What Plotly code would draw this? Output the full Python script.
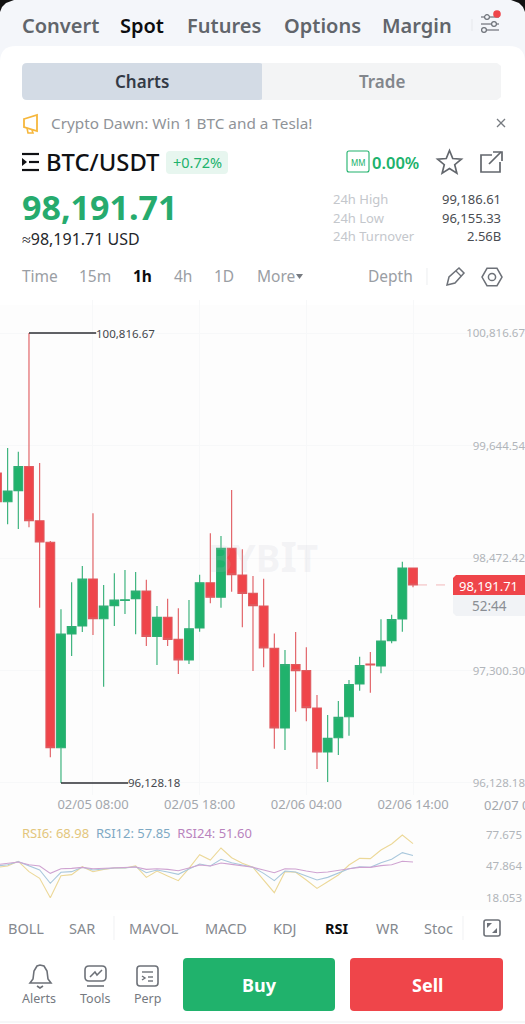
import math

import pandas as pd
import plotly.graph_objects as go

W = 525
H = 1024
FONT = "Noto Sans"

GREEN = "#20b26c"
RED = "#ef454a"
GREY = "#9a9ea4"

# Hourly candles, 02/04 23:00 to 02/06 14:00
times = pd.date_range("2025-02-04 23:00", periods=40, freq="h")

opens = [99358, 99059, 99174, 99424, 98861, 98636, 96496, 97681, 97764, 98254,
         97840, 97976, 98031, 98049, 98129, 97656, 97854, 97625, 97410, 97743,
         98215, 98063, 98573, 98295, 98104, 97972, 97531, 96701, 97361, 97299,
         96910, 96451, 96600, 96819, 97160, 97368, 97347, 97611, 97837, 98368]
highs = [99358, 99619, 99580, 100816.67, 99462, 98650, 97938, 98219, 98389, 98938,
         98191, 98313, 98347, 98327, 98247, 97972, 98049, 97948, 98035, 98299,
         98729, 98702, 99181, 98563, 98285, 98257, 97687, 97514, 97701, 97542,
         97045, 96837, 96982, 97201, 97444, 97493, 97833, 97882, 98434, 98368]
lows = [99059, 98823, 98775, 98792, 97955, 96396, 96128.18, 97451, 97701, 97670,
        97132, 97764, 97889, 97677, 97555, 97358, 97555, 97264, 97368, 97705,
        98000, 97955, 98122, 97750, 97295, 97333, 96486, 96472, 96871, 96771,
        96274, 96139, 96420, 96621, 97090, 97069, 97271, 97583, 97705, 98167]
closes = [99059, 99170, 99424, 98861, 98639, 96496, 97681, 97757, 98254, 97840,
          97972, 98035, 98038, 98129, 97656, 97854, 97625, 97410, 97736, 98215,
          98063, 98573, 98299, 98104, 97976, 97535, 96701, 97361, 97299, 96913,
          96451, 96593, 96812, 97153, 97351, 97358, 97608, 97830, 98368, 98191.71]

rsi6 = [46.6, 47.9, 52.3, 42.5, 36.2, 17.9, 38.7, 39.7, 47.2, 42.5,
        44.7, 46.0, 46.0, 47.9, 37.1, 43.1, 38.4, 34.0, 45.6, 58.6,
        53.5, 64.9, 55.7, 50.4, 46.6, 34.6, 22.6, 42.5, 41.9, 34.6,
        26.7, 33.0, 39.3, 48.8, 55.1, 54.8, 63.0, 68.7, 77.2, 68.98]
rsi12 = [47.9, 49.1, 52.0, 47.9, 44.1, 31.5, 41.9, 42.5, 46.6, 44.1,
         45.0, 46.0, 46.0, 47.2, 41.5, 44.1, 42.2, 40.0, 45.0, 49.7,
         47.9, 54.2, 51.0, 48.8, 46.6, 40.9, 34.0, 43.1, 42.2, 38.4,
         34.6, 37.1, 40.9, 45.3, 47.2, 46.6, 51.0, 54.2, 60.5, 57.85]
rsi24 = [49.1, 50.4, 51.6, 49.1, 47.9, 40.9, 45.3, 45.6, 46.6, 45.3,
         45.6, 46.6, 46.6, 46.9, 44.7, 45.3, 44.7, 43.4, 46.0, 48.8,
         47.9, 50.7, 49.4, 48.2, 46.6, 44.1, 41.5, 45.3, 45.0, 43.1,
         41.5, 42.2, 43.4, 45.3, 46.6, 46.6, 48.2, 49.1, 52.3, 51.60]

price_ticks = [100816.67, 99644.54, 98472.42, 97300.30, 96128.18]
rsi_ticks = [77.675, 47.864, 18.053]

top_tabs = ["Convert", "Futures", "Options", "Margin"]
periods = ["Time", "15m", "4h", "1D", "More"]
indicators = ["BOLL", "SAR", "MAVOL", "MACD", "KDJ", "WR", "Stoc"]


# Everything around the chart is placed in screen pixels
def fx(x):
    return x / W


def fy(y):
    return 1 - y / H


def path(points, close=False):
    d = "M" + " L".join(f"{fx(x):.5f},{fy(y):.5f}" for x, y in points)
    return d + (" Z" if close else "")


def rrect_path(x0, y0, x1, y1, r):
    pts = [(x0 + r, y0), (x1 - r, y0), (x1, y0 + r), (x1, y1 - r),
           (x1 - r, y1), (x0 + r, y1), (x0, y1 - r), (x0, y0 + r)]
    p = [f"{fx(x):.5f},{fy(y):.5f}" for x, y in pts]
    return (f"M{p[0]} L{p[1]} Q{fx(x1):.5f},{fy(y0):.5f} {p[2]} L{p[3]} "
            f"Q{fx(x1):.5f},{fy(y1):.5f} {p[4]} L{p[5]} "
            f"Q{fx(x0):.5f},{fy(y1):.5f} {p[6]} L{p[7]} "
            f"Q{fx(x0):.5f},{fy(y0):.5f} {p[0]} Z")


shapes = []
annotations = []


def fill(d, color, layer="above"):
    shapes.append(dict(type="path", path=d, xref="paper", yref="paper",
                       fillcolor=color, line=dict(width=0), layer=layer))


def stroke(points, color, width=1.5, close=False):
    shapes.append(dict(type="path", path=path(points, close), xref="paper", yref="paper",
                       line=dict(color=color, width=width)))


def rect_line(x0, y0, x1, y1, r, color, width=1.5):
    shapes.append(dict(type="path", path=rrect_path(x0, y0, x1, y1, r), xref="paper",
                       yref="paper", line=dict(color=color, width=width)))


def circle(cx, cy, r, line=None, color=None, width=1.5):
    shapes.append(dict(type="circle", xref="paper", yref="paper",
                       x0=fx(cx - r), x1=fx(cx + r), y0=fy(cy + r), y1=fy(cy - r),
                       fillcolor=color, line=dict(color=line, width=width if line else 0)))


def label(x, y, text, size, color, anchor="left", weight=400, family=FONT):
    annotations.append(dict(x=fx(x), y=fy(y), xref="paper", yref="paper", text=text,
                            showarrow=False, xanchor=anchor, yanchor="middle",
                            borderpad=0, borderwidth=0,
                            font=dict(size=size, color=color, family=family, weight=weight)))


# Page panels
fill(path([(0, 0), (W, 0), (W, H), (0, H)], True), "#f4f6fa", "below")
fill(rrect_path(0, 46, W, H + 30, 16), "#ffffff", "below")
fill(path([(0, 305), (W, 305), (W, 910), (0, 910)], True), "#fdfdfd", "below")
fill(path([(0, 0), (14, 0), (6, 3), (2, 7), (0, 12)], True), "#111111", "below")
fill(path([(W, 0), (W - 14, 0), (W - 6, 3), (W - 2, 7), (W, 12)], True), "#111111", "below")

# Top tabs
for name, x in zip(top_tabs, [22, 187, 284, 382]):
    label(x, 25, name, 20, "#61656b", weight=600)
label(120, 25, "Spot", 20, "#0c0d0f", weight=600)
stroke([(472, 19), (472, 31)], "#e6e8ec", 1)
for yy, cx in [(17, 487), (24, 494), (30, 484)]:
    stroke([(481, yy), (499, yy)], "#6d7178", 1.2)
    circle(cx, yy, 2.4, "#6d7178", "#f4f6fa", 1.2)
circle(497, 14, 3.8, color=RED)

# Charts / Trade switch
fill(rrect_path(22, 63, 264, 100, 5), "#d3dbe5")
fill(path([(262, 63), (497, 63), (501, 66), (501, 97), (497, 100), (262, 100)], True), "#f3f4f5")
label(142, 81, "Charts", 17, "#333a45", "center", 600)
label(382, 81, "Trade", 17, "#82868c", "center", 600)

# Notice
stroke([(24, 119), (37, 115), (37, 131), (24, 127)], "#f6b73c", 1.8, True)
stroke([(27, 128), (28, 133), (33, 133), (32, 130)], "#f6b73c", 1.6)
label(51, 123, "Crypto Dawn: Win 1 BTC and a Tesla!", 15.3, "#8f9398")
stroke([(497, 119), (505, 127)], "#777b81", 1.3)
stroke([(505, 119), (497, 127)], "#777b81", 1.3)

# Symbol row
stroke([(22, 154), (39, 154)], "#101114", 2.2)
stroke([(29, 162), (39, 162)], "#101114", 2.2)
stroke([(22, 170), (39, 170)], "#101114", 2.2)
fill(path([(22, 158), (27, 162), (22, 166)], True), "#101114")
label(46, 162, "BTC/USDT", 23.8, "#101114", weight=500)
fill(rrect_path(166, 151, 228, 174, 4), "#e7f6ef")
label(197, 162, "+0.72%", 14.5, GREEN, "center")
rect_line(347, 151, 369, 172, 2, GREEN, 1.1)
label(358, 162, "MM", 8, GREEN, "center")
label(372, 162, "0.00%", 16.5, GREEN, weight=600)
star = []
for k in range(10):
    rad = 12.5 if k % 2 == 0 else 5.5
    ang = -math.pi / 2 + k * math.pi / 5
    star.append((449.5 + rad * math.cos(ang), 163 + rad * math.sin(ang)))
stroke(star, "#63676d", 1.7, True)
stroke([(492, 155), (481, 155), (481, 172), (500, 172), (500, 162)], "#63676d", 1.7)
stroke([(489, 164), (501, 152)], "#63676d", 1.7)
stroke([(493, 152), (502, 152), (502, 161)], "#63676d", 1.7)

# Price block
label(22, 207, f"{closes[-1]:,.2f}", 34, "#26ab6e", weight=700)
label(22, 238.5, f"≈{closes[-1]:,.2f} USD", 16, "#25272b", weight=400)
label(333, 199, "24h High", 13, "#c4c7cc")
label(333, 218, "24h Low", 13, "#c4c7cc")
label(333, 236, "24h Turnover", 13, "#c4c7cc")
label(501, 199, "99,186.61", 13, "#4a4d52", "right")
label(501, 218, "96,155.33", 13, "#4a4d52", "right")
label(501, 236, "2.56B", 13, "#4a4d52", "right")

# Period row
for name, x in zip(periods, [22, 79, 174, 214, 257]):
    label(x, 276, name, 15.5, GREY)
label(133, 276, "1h", 15.5, "#0c0d0f", weight=700)
fill(path([(296, 274), (303, 274), (299.5, 279)], True), "#777b81")
label(368, 276, "Depth", 15.5, GREY)
stroke([(427, 268), (427, 285)], "#eceef0", 1)
stroke([(447, 285), (449, 277), (459, 268), (464, 273), (455, 283)], "#6d7178", 1.5, True)
stroke([(456, 271), (461, 276)], "#6d7178", 1.3)
hexagon = [(492 + 10 * math.cos(k * math.pi / 3), 277 + 10 * math.sin(k * math.pi / 3)) for k in range(6)]
stroke(hexagon, "#6d7178", 1.5, True)
circle(492, 277, 3.6, "#6d7178")

# Extreme price markers, taken from the candles
hi = highs.index(max(highs))
lo = lows.index(min(lows))
line_len = pd.Timedelta(hours=6.3)
for i, v, in [(hi, highs[hi]), (lo, lows[lo])]:
    shapes.append(dict(type="line", xref="x", yref="y", x0=times[i], x1=times[i] + line_len,
                       y0=v, y1=v, line=dict(color="#2c2e33", width=1.4)))
    annotations.append(dict(x=times[i] + line_len, y=v, xref="x", yref="y",
                            text=f"{v:,.2f}", showarrow=False, xanchor="left",
                            borderpad=0, borderwidth=0,
                            font=dict(size=11.5, color="#45484d", family=FONT)))

# Date that runs off the right edge, plotly drops this tick label
annotations.append(dict(x="2025-02-07 00:00", y=fy(805), xref="x", yref="paper",
                        text="02/07 00:00", showarrow=False, xanchor="center", yanchor="middle",
                        borderpad=0, borderwidth=0,
                        font=dict(size=13, color="#a3a7ad", family=FONT)))

# Watermark
label(263, 555, "BYB<span style='font-size:42px'>I</span>T", 37, "rgba(190,195,205,0.16)", "center", 700)

# Last price tag
shapes.append(dict(type="line", xref="paper", yref="y", x0=fx(418), x1=fx(453),
                   y0=closes[-1], y1=closes[-1], line=dict(color="#f2b8ba", width=1, dash="dash")))
fill(path([(453, 595), (453, 578), (456, 575), (W, 575), (W, 595)], True), RED)
fill(path([(453, 595), (W, 595), (W, 616), (456, 616), (453, 613)], True), "#f1f3f6")
label(459, 585.5, f"{closes[-1]:,.2f}", 13, "#ffffff")
label(472, 605.5, "52:44", 13.5, "#8a8e94")

# Latest RSI values above the lines
label(22, 833, (f"<span style='color:#e3c67c'>RSI6: {rsi6[-1]:.2f}</span>  "
                f"<span style='color:#7ea9c4'>RSI12: {rsi12[-1]:.2f}</span>  "
                f"<span style='color:#b983bd'>RSI24: {rsi24[-1]:.2f}</span>"), 13, "#888888")

# Indicator tabs
for name, x in zip(indicators, [8, 69, 129, 205, 273, 376, 424]):
    label(x, 928, name, 14.5, "#85898f")
label(325, 928, "RSI", 14.5, "#0c0d0f", weight=700)
stroke([(114, 916), (114, 940)], "#f0f1f3", 1)
stroke([(463, 916), (463, 940)], "#f0f1f3", 1)
rect_line(484, 920, 500, 936, 2, "#6d7178", 1.6)
fill(path([(487, 923), (492, 923), (487, 928)], True), "#6d7178")
fill(path([(497, 933), (492, 933), (497, 928)], True), "#6d7178")

# Bottom bar
stroke([(30, 983), (33, 979), (34, 971), (37, 966), (40, 965), (44, 966), (47, 971), (48, 979), (51, 983)],
       "#6d7178", 1.6, True)
stroke([(37, 986), (40, 988), (43, 986)], "#6d7178", 1.6)
rect_line(85, 966, 106, 981, 4, "#6d7178", 1.6)
stroke([(90, 977), (95, 972), (97, 975), (102, 970)], "#6d7178", 1.5)
stroke([(87, 986), (104, 986)], "#6d7178", 1.6)
rect_line(137, 966, 158, 986, 3, "#6d7178", 1.6)
stroke([(142, 972), (153, 972)], "#6d7178", 1.4)
stroke([(142, 976), (145, 978), (142, 980)], "#6d7178", 1.4)
stroke([(148, 977), (153, 977)], "#6d7178", 1.4)
stroke([(148, 981), (153, 981)], "#6d7178", 1.4)
label(39, 998, "Alerts", 12.5, "#75797f", "center")
label(95, 998, "Tools", 12.5, "#75797f", "center")
label(147, 998, "Perp", 12.5, "#75797f", "center")
fill(rrect_path(183, 958, 335, 1011, 4), GREEN)
fill(rrect_path(350, 958, 503, 1011, 4), RED)
label(259, 985, "Buy", 18, "#ffffff", "center", 700)
label(427, 985, "Sell", 18, "#ffffff", "center", 700)
stroke([(0, 1022), (W, 1022)], "#eeeff1", 1)

fig = go.Figure()
fig.add_trace(go.Candlestick(
    x=times, open=opens, high=highs, low=lows, close=closes,
    increasing=dict(line=dict(color="#2fae74", width=1.1), fillcolor=GREEN),
    decreasing=dict(line=dict(color="#e0595e", width=1.1), fillcolor=RED),
    whiskerwidth=0, xaxis="x", yaxis="y"))
for values, color in [(rsi6, "#ecd898"), (rsi12, "#a9c7dc"), (rsi24, "#cfa3d1")]:
    fig.add_trace(go.Scatter(x=times, y=values, mode="lines", xaxis="x2", yaxis="y2",
                             line=dict(color=color, width=1.1)))

x_range = ["2025-02-04 23:17", "2025-02-07 00:30"]
fig.update_layout(
    width=W, height=H,
    margin=dict(l=0, r=0, t=0, b=0),
    paper_bgcolor="#ffffff", plot_bgcolor="rgba(0,0,0,0)",
    showlegend=False, boxgap=0.18, boxgroupgap=0,
    font=dict(family=FONT),
    shapes=shapes, annotations=annotations,
    xaxis=dict(domain=[0, 1], range=x_range, type="date", anchor="y", automargin=False,
               rangeslider=dict(visible=False),
               tick0="2025-02-05 08:00", dtick=36000000, tickformat="%m/%d %H:%M",
               ticklabeloverflow="allow", ticks="", showline=False, zeroline=False,
               gridcolor="#f7f8f9", tickfont=dict(size=13, color="#a3a7ad")),
    yaxis=dict(domain=[fy(795), fy(300)], range=[96003, 101160.6], anchor="x", side="right",
               automargin=False, tickmode="array", tickvals=price_ticks, tickformat=",.2f",
               ticklabelposition="inside", ticklabelstandoff=-3, ticks="", showline=False,
               zeroline=False, gridcolor="#f7f8f9", tickfont=dict(size=11.5, color="#b1b5ba")),
    xaxis2=dict(domain=[0, 1], range=x_range, type="date", anchor="y2", matches="x", automargin=False,
                showticklabels=False, showgrid=False, zeroline=False, ticks=""),
    yaxis2=dict(domain=[fy(905), fy(825)], range=[10.95, 86.67], anchor="x2", side="right",
                automargin=False, tickmode="array", tickvals=rsi_ticks, tickformat=".3f",
                ticklabelposition="inside", ticks="", showline=False, zeroline=False,
                showgrid=False, tickfont=dict(size=11.5, color="#b1b5ba")),
)

fig.write_html("out.html", config=dict(displayModeBar=False, responsive=False),
               post_script="document.body.style.margin='0';document.body.style.overflow='hidden';")
